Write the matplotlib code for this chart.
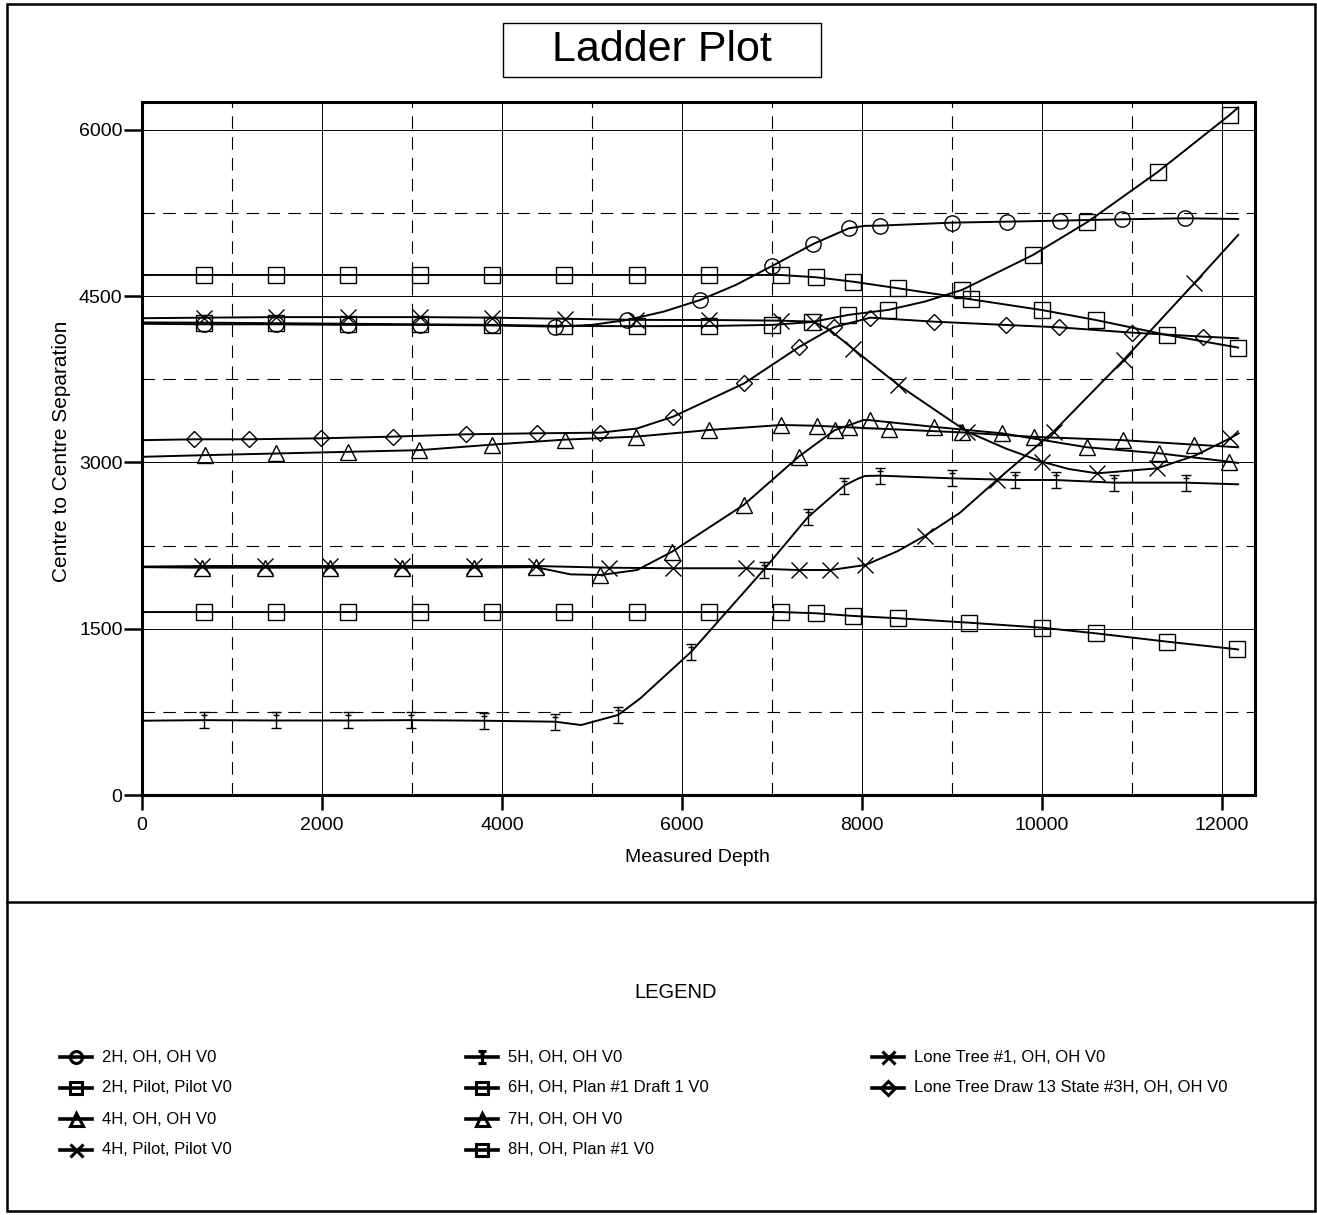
import numpy as np
import matplotlib
matplotlib.use("Agg")
from matplotlib import pyplot as plt
from matplotlib.lines import Line2D
from matplotlib.patches import Rectangle
from matplotlib.path import Path
from matplotlib.markers import MarkerStyle
from matplotlib.ticker import MultipleLocator

plt.rcParams['font.family'] = ['Liberation Sans', 'DejaVu Sans']
plt.rcParams['lines.scale_dashes'] = False

W, H = 1317, 1215

# values: measured depth (ft) vs centre to centre separation (ft)
# *_md / *_sep -> points carrying a symbol, *_lmd / *_lsep -> extra points on the line only
w2h_oh_md = [690, 1490, 2290, 3090, 3890, 4594, 5391, 6206, 7002, 7461, 7856, 8201, 9002, 9617, 10202, 10888, 11594]
w2h_oh_sep = [4245, 4245, 4240, 4240, 4235, 4224, 4284, 4465, 4771, 4970, 5111, 5135, 5162, 5171, 5180, 5192, 5201]
w2h_oh_lmd = [0, 5000, 5800, 6600, 8030, 12183]
w2h_oh_lsep = [4250, 4240, 4360, 4600, 5133, 5195]

w2h_pil_md = [690, 1490, 2290, 3090, 3890, 4694, 5505, 6300, 7006, 7450, 7850, 8294, 9113, 9902, 10508, 11294, 12088]
w2h_pil_sep = [4260, 4255, 4250, 4245, 4240, 4230, 4228, 4230, 4240, 4266, 4330, 4375, 4555, 4870, 5168, 5622, 6133]
w2h_pil_lmd = [0, 8700, 12183]
w2h_pil_lsep = [4262, 4450, 6200]

w4h_oh_md = [697, 1492, 2288, 3083, 3892, 4697, 5492, 6306, 7106, 7502, 7853, 8298, 9113, 9909, 10902, 11692]
w4h_oh_sep = [3065, 3080, 3095, 3110, 3160, 3205, 3232, 3292, 3337, 3330, 3316, 3300, 3270, 3230, 3200, 3160]
w4h_oh_lmd = [0, 12183]
w4h_oh_lsep = [3050, 3136]

w4h_pil_md = [690, 1490, 2290, 3090, 3890, 4698, 5494, 6298, 7106, 7465, 7905, 8406, 9170, 10002, 10613, 11280, 12094]
w4h_pil_sep = [4305, 4310, 4310, 4310, 4305, 4295, 4285, 4284, 4278, 4269, 4022, 3698, 3277, 3006, 2901, 2946, 3217]
w4h_pil_lmd = [0, 7650, 8800, 9600, 10300, 11700, 12187]
w4h_pil_lsep = [4300, 4190, 3480, 3125, 2940, 3060, 3262]

w5h_md = [694, 1491, 2286, 2988, 3797, 4591, 5292, 6106, 6909, 7400, 7803, 8201, 9002, 9703, 10154, 10802, 11598]
w5h_sep = [675, 672, 672, 675, 670, 661, 722, 1293, 2030, 2505, 2790, 2880, 2856, 2841, 2841, 2817, 2817]
w5h_lmd = [0, 4881, 5539, 7950, 8033, 12183]
w5h_lsep = [670, 631, 872, 2850, 2877, 2802]

w6h_md = [690, 1490, 2290, 3090, 3890, 4690, 5500, 6306, 7098, 7494, 7899, 8403, 9209, 10000, 10600, 11392, 12183]
w6h_sep = [4690, 4690, 4690, 4690, 4690, 4690, 4690, 4690, 4690, 4669, 4630, 4570, 4471, 4374, 4284, 4149, 4035]
w6h_lmd = [0]
w6h_lsep = [4690]

w7h_md = [672, 1364, 2089, 2894, 3689, 4376, 5094, 5891, 6687, 7298, 7698, 8094, 8806, 9557, 10502, 11298, 12083]
w7h_sep = [2050, 2050, 2050, 2050, 2050, 2055, 1984, 2194, 2616, 3051, 3290, 3380, 3320, 3262, 3136, 3082, 3006]
w7h_lmd = [0, 4761, 5502, 8020, 12183]
w7h_lsep = [2055, 1990, 2029, 3382, 2995]

w8h_md = [690, 1490, 2290, 3090, 3890, 4690, 5500, 6306, 7098, 7494, 7899, 8403, 9194, 10000, 10600, 11392, 12172]
w8h_sep = [1650, 1650, 1650, 1650, 1650, 1650, 1650, 1650, 1650, 1639, 1615, 1594, 1554, 1509, 1458, 1383, 1314]
w8h_lmd = [0, 12183]
w8h_lsep = [1650, 1312]

lt1_md = [672, 1364, 2089, 2894, 3689, 4376, 5190, 5902, 6717, 7298, 7650, 8039, 8706, 9502, 10131, 10909, 11695]
lt1_sep = [2065, 2065, 2065, 2065, 2065, 2065, 2050, 2045, 2045, 2029, 2029, 2074, 2340, 2841, 3277, 3923, 4615]
lt1_lmd = [0, 8400, 9090, 12183]
lt1_lsep = [2060, 2200, 2545, 5051]

lt13_md = [583, 1188, 1993, 2788, 3598, 4391, 5094, 5902, 6694, 7298, 7687, 8094, 8801, 9607, 10192, 10999, 11790]
lt13_sep = [3208, 3208, 3217, 3232, 3253, 3262, 3268, 3412, 3713, 4038, 4218, 4305, 4269, 4239, 4218, 4170, 4134]
lt13_lmd = [0, 5500, 12183]
lt13_lsep = [3200, 3305, 4119]

labels = ["2H, OH, OH V0", "2H, Pilot, Pilot V0", "4H, OH, OH V0", "4H, Pilot, Pilot V0",
          "5H, OH, OH V0", "6H, OH, Plan #1 Draft 1 V0", "7H, OH, OH V0", "8H, OH, Plan #1 V0",
          "Lone Tree #1, OH, OH V0", "Lone Tree Draw 13 State #3H, OH, OH V0"]

# I-beam symbol used for 5H
ibeam = Path([(-0.3, 0.5), (0.3, 0.5), (0, 0.5), (0, -0.5), (-0.3, -0.5), (0.3, -0.5), (-0.2, 0.33), (0.2, 0.33)],
             [Path.MOVETO, Path.LINETO, Path.MOVETO, Path.LINETO, Path.MOVETO, Path.LINETO, Path.MOVETO, Path.LINETO])

series = [
    (w2h_oh_md, w2h_oh_sep, w2h_oh_lmd, w2h_oh_lsep, 'o', 11),
    (w2h_pil_md, w2h_pil_sep, w2h_pil_lmd, w2h_pil_lsep, 's', 11.5),
    (w4h_oh_md, w4h_oh_sep, w4h_oh_lmd, w4h_oh_lsep, '^', 12),
    (w4h_pil_md, w4h_pil_sep, w4h_pil_lmd, w4h_pil_lsep, 'x', 12),
    (w5h_md, w5h_sep, w5h_lmd, w5h_lsep, MarkerStyle(ibeam), 11),
    (w6h_md, w6h_sep, w6h_lmd, w6h_lsep, 's', 11.5),
    (w7h_md, w7h_sep, w7h_lmd, w7h_lsep, '^', 12),
    (w8h_md, w8h_sep, w8h_lmd, w8h_lsep, 's', 11.5),
    (lt1_md, lt1_sep, lt1_lmd, lt1_lsep, 'x', 12),
    (lt13_md, lt13_sep, lt13_lmd, lt13_lsep, 'D', 8.5),
]


def fx(px):
  return px / W


def fy(py):
  return 1 - py / H


fig = plt.figure(figsize=(W / 100, H / 100), dpi=100)

# frame round the page, split line and title box
fig.add_artist(Rectangle((fx(7), fy(1211)), fx(1315) - fx(7), fy(4) - fy(1211),
                         transform=fig.transFigure, fill=False, lw=1.8, ec='black'))
fig.add_artist(Line2D([fx(7), fx(1315)], [fy(902), fy(902)], transform=fig.transFigure, lw=1.8, color='black'))
fig.add_artist(Rectangle((fx(503), fy(77)), fx(821) - fx(503), fy(23) - fy(77),
                         transform=fig.transFigure, fill=False, lw=1.0, ec='black'))
fig.text(fx(662), fy(50), "Ladder Plot", fontsize=31, ha='center', va='center')

ax = fig.add_axes([fx(142), fy(795), fx(1255) - fx(142), fy(102) - fy(795)])
ax.set_xlim(0, 12370)
ax.set_ylim(0, 6250)

ax.xaxis.set_major_locator(MultipleLocator(2000))
ax.xaxis.set_minor_locator(MultipleLocator(1000))
ax.yaxis.set_major_locator(MultipleLocator(1500))
ax.yaxis.set_minor_locator(MultipleLocator(750))
ax.grid(which='major', color='black', lw=0.7, ls='-')
ax.grid(which='minor', color='black', lw=0.8, ls=(0, (9, 6)))
ax.set_axisbelow(True)
ax.tick_params(which='major', direction='out', width=1.8, labelsize=14)
ax.tick_params(axis='x', which='major', length=11, pad=5)
ax.tick_params(axis='y', which='major', length=13, pad=1)
ax.tick_params(which='minor', length=0)
for sp in ax.spines.values():
  sp.set_linewidth(2.2)

for mk_md, mk_sep, ln_md, ln_sep, m, ms in series:
  x = np.concatenate([mk_md, ln_md])
  y = np.concatenate([mk_sep, ln_sep])
  order = np.argsort(x)
  ax.plot(x[order], y[order], color='black', lw=1.4, zorder=3)
  ax.plot(mk_md, mk_sep, ls='none', marker=m, ms=ms, mfc='none', mec='black', mew=1.0, zorder=4)

ax.set_xlabel("Measured Depth", fontsize=14)
ax.set_ylabel("Centre to Centre Separation", fontsize=15)
ax.xaxis.label.set_va('center')
ax.yaxis.label.set_va('center')
ax.xaxis.set_label_coords((697 - 142) / 1113, (795 - 857) / 693)
ax.yaxis.set_label_coords((62 - 142) / 1113, (795 - 451) / 693)

# legend block below the split line
fig.text(fx(676), fy(993), "LEGEND", fontsize=14.5, ha='center', va='center')
col_x = [76, 482, 888]
row_y = [1057, 1088, 1119, 1150]
slots = [(0, 0), (0, 1), (0, 2), (0, 3), (1, 0), (1, 1), (1, 2), (1, 3), (2, 0), (2, 1)]
for (c, r), lab, s in zip(slots, labels, series):
  cx, cy = col_x[c], row_y[r]
  fig.add_artist(Line2D([fx(cx - 16), fx(cx + 16)], [fy(cy), fy(cy)], transform=fig.transFigure,
                        color='black', lw=2.6))
  fig.add_artist(Line2D([fx(cx)], [fy(cy)], transform=fig.transFigure, ls='none', marker=s[4],
                        ms=s[5] * 0.78, mfc='none', mec='black', mew=2.2))
  fig.text(fx(cx + 26), fy(cy), lab, fontsize=12, ha='left', va='center')

fig.savefig("out.png", dpi=100)
